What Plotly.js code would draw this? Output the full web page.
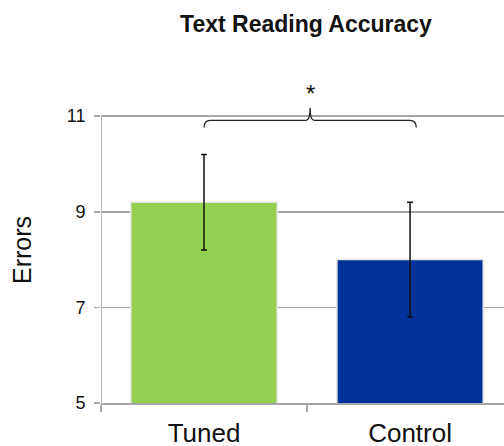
<!DOCTYPE html>
<html>
<head>
<meta charset="utf-8">
<script src="https://cdn.plot.ly/plotly-3.0.1.min.js"></script>
<style>html,body{margin:0;padding:0;overflow:hidden;background:#fff;}</style>
</head>
<body>
<div id="chart" style="width:504px;height:446px;"></div>
<script>
const categories = ['Tuned', 'Control'];
const meanErrors = [9.2, 8.0];
const errorSD = [1.0, 1.2];
const barColors = ['#92D050', '#003399'];
const yTicks = [5, 7, 9, 11];
const sigLabel = '*';

const grid = '#a6a6a6';
const font = 'Arial, "Liberation Sans", sans-serif';

// significance bracket between the two categories
const bx0 = 0, bx1 = 1.03;
const yEnd = 10.76, yH = 10.91, yPk = 11.17;
const mid = (bx0 + bx1) / 2;
const dx = 0.03, dxm = 0.02;
const bracket = `M ${bx0} ${yEnd} Q ${bx0} ${yH} ${bx0 + dx} ${yH} L ${mid - dxm} ${yH} Q ${mid} ${yH} ${mid} ${yPk} Q ${mid} ${yH} ${mid + dxm} ${yH} L ${bx1 - dx} ${yH} Q ${bx1} ${yH} ${bx1} ${yEnd}`;

const trace = {
  type: 'bar',
  x: categories,
  y: meanErrors,
  base: 0,
  width: 0.71,
  marker: { color: barColors, line: { color: '#e6e6e6', width: 1.5 } },
  error_y: { type: 'data', array: errorSD, visible: true, color: '#111', thickness: 1.5, width: 3 },
  hoverinfo: 'none'
};

const layout = {
  width: 504, height: 446,
  margin: { l: 101, r: 0, t: 97, b: 43 },
  paper_bgcolor: '#fff', plot_bgcolor: '#fff',
  showlegend: false,
  title: {
    text: '<b>Text Reading Accuracy</b>',
    font: { family: font, size: 23, color: '#111' },
    xref: 'container', x: 306 / 504, xanchor: 'center',
    yref: 'container', y: 1 - 24 / 446, yanchor: 'middle'
  },
  xaxis: {
    type: 'category',
    range: [-0.5, 1.456],
    tickson: 'boundaries',
    ticks: 'outside', ticklen: 7, tickcolor: grid, tickwidth: 1.5,
    showline: true, linecolor: grid, linewidth: 1.5,
    showgrid: false, zeroline: false,
    tickfont: { family: font, size: 26, color: '#111' },
    ticklabelstandoff: 6
  },
  yaxis: {
    range: [5, 11.4],
    tickvals: yTicks,
    ticktext: yTicks.map(String),
    ticks: 'outside', ticklen: 6, tickcolor: grid, tickwidth: 1.5,
    showline: false, showgrid: true, gridcolor: grid, gridwidth: 1.5,
    zeroline: false,
    tickfont: { family: font, size: 18, color: '#111' },
    ticklabelstandoff: 5,
    title: { text: 'Errors', font: { family: font, size: 25, color: '#111' }, standoff: 27 }
  },
  shapes: [
    { type: 'line', xref: 'x', yref: 'y', x0: -0.5, x1: -0.5, y0: yTicks[0], y1: yTicks[yTicks.length - 1],
      line: { color: grid, width: 1.5 }, layer: 'above' },
    { type: 'path', xref: 'x', yref: 'y', path: bracket, line: { color: '#222', width: 1.3 }, layer: 'above' }
  ],
  annotations: [
    { xref: 'x', yref: 'y', x: mid, y: yPk, yshift: 15, text: sigLabel, showarrow: false,
      font: { family: font, size: 24, color: '#111' } }
  ]
};

Plotly.newPlot('chart', [trace], layout, { displayModeBar: false, staticPlot: true });
</script>
</body>
</html>
